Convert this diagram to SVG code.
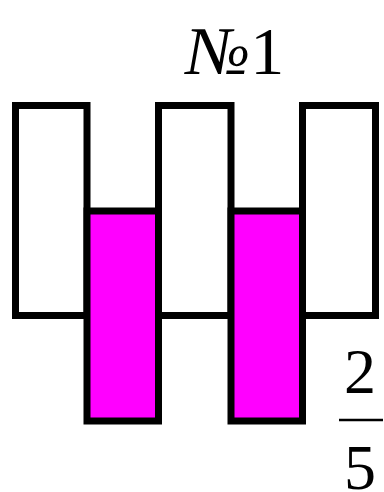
<svg xmlns="http://www.w3.org/2000/svg" width="384" height="492" viewBox="0 0 384 492">
<style>
.w{fill:#fff;stroke:#000;stroke-width:7}
.m{fill:#ff00ff;stroke:#000;stroke-width:7}
.t{font-family:"Liberation Serif","Times New Roman",serif;fill:#000}
</style>
<rect width="384" height="492" fill="#fff"/>
<g id="bar1"><rect class="w" x="15.5" y="105.5" width="71.5" height="210"/></g>
<g id="bar3"><rect class="w" x="158.5" y="105.5" width="72.5" height="210"/></g>
<g id="bar5"><rect class="w" x="302.5" y="105.5" width="73" height="210"/></g>
<g id="bar2"><rect class="m" x="87" y="211" width="71.5" height="210"/></g>
<g id="bar4"><rect class="m" x="231" y="211" width="71.5" height="210"/></g>
<g id="title"><text class="t" x="186" y="74" font-size="68"><tspan font-style="italic">№</tspan>1</text></g>
<g id="fraction">
<text class="t" x="360" y="393" font-size="64" text-anchor="middle">2</text>
<line x1="339" y1="420" x2="383" y2="420" stroke="#000" stroke-width="2.5"/>
<text class="t" x="360" y="489" font-size="64" text-anchor="middle">5</text>
</g>
</svg>
